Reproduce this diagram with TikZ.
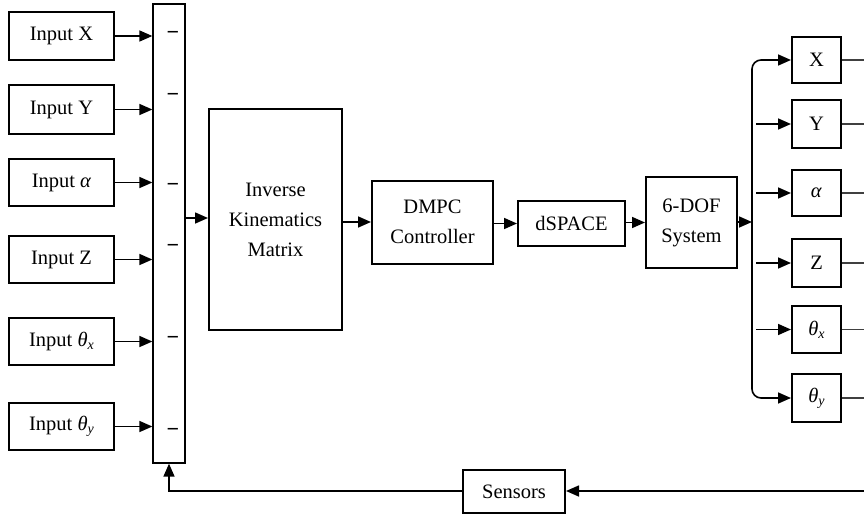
\documentclass[tikz,border=0pt]{standalone}
\usepackage{fontspec}
\setmainfont{Liberation Serif}
\usetikzlibrary{arrows.meta}
\newcommand{\sbx}[1]{\raisebox{-0.35ex}{\fontsize{14}{14}\selectfont\itshape #1}}
\tikzset{
  x=1pt, y=-1pt,
  blk/.style={draw, line width=2pt, inner sep=0pt, align=center,
    font=\fontsize{20.5}{30}\selectfont},
  conn/.style={line width=1.6pt, -{Triangle[length=13pt,width=11pt]}},
  plainline/.style={line width=1.2pt, draw=black!75},
  minus/.style={inner sep=0pt, font=\fontsize{22}{22}\bfseries\selectfont},
}
\begin{document}
\begin{tikzpicture}
\useasboundingbox (0,0) rectangle (864,514);
% input boxes
\node[blk, minimum width=105, minimum height=48] (inX) at (61.5,36) {Input X};
\node[blk, minimum width=105, minimum height=49] (inY) at (61.5,109.5) {Input Y};
\node[blk, minimum width=105, minimum height=47] (inA) at (61.5,182.5) {Input \textit{α}};
\node[blk, minimum width=105, minimum height=47] (inZ) at (61.5,259.5) {Input Z};
\node[blk, minimum width=105, minimum height=47] (inTx) at (61.5,341.5) {Input \textit{θ}\sbx{x}};
\node[blk, minimum width=105, minimum height=47] (inTy) at (61.5,426.5) {Input \textit{θ}\sbx{y}};
% summing bar
\node[draw, line width=1.3pt, minimum width=32, minimum height=459, inner sep=0pt] (bar) at (169,233.5) {};
\node[minus] (m1) at (173,35) {−};
\node[minus] (m2) at (173,97) {−};
\node[minus] (m3) at (173,187) {−};
\node[minus] (m4) at (173,248) {−};
\node[minus] (m5) at (173,340) {−};
\node[minus] (m6) at (173,432) {−};
% input arrows
\foreach \n in {inX,inY,inA,inZ,inTx,inTy}
  \draw[conn] (\n.east) -- (\n.east -| bar.west);
% chain
\node[blk, minimum width=133, minimum height=221] (ik) at (275.5,219.5) {Inverse\\Kinematics\\Matrix};
\node[blk, minimum width=121, minimum height=83] (dmpc) at (432.5,222) {DMPC\\Controller};
\node[blk, minimum width=107, minimum height=45] (ds) at (571.5,223.5) {dSPACE};
\node[blk, minimum width=91, minimum height=91] (dof) at (691.5,222.5) {6-DOF\\System};
\draw[conn] (bar.east |- 0,218) -- (ik.west |- 0,218);
\draw[conn] (ik.east |- dmpc.west) -- (dmpc.west);
\draw[conn] (dmpc.east |- ds.west) -- (ds.west);
\draw[conn] (ds.east |- dof.west) -- (dof.west);
\coordinate (bus) at (752,222);
\coordinate (bx) at (756,222);
\draw[conn] (dof.east |- bus) -- (bus);
% outputs
\node[blk, minimum width=49, minimum height=46] (oX) at (816.5,60) {X};
\node[blk, minimum width=49, minimum height=48] (oY) at (816.5,124) {Y};
\node[blk, minimum width=49, minimum height=46] (oA) at (816.5,193) {\textit{α}};
\node[blk, minimum width=49, minimum height=48] (oZ) at (816.5,263) {Z};
\node[blk, minimum width=49, minimum height=47] (oTx) at (816.5,329.5) {\textit{θ}\sbx{x}};
\node[blk, minimum width=49, minimum height=48] (oTy) at (816.5,398) {\textit{θ}\sbx{y}};
\draw[conn, rounded corners=9pt] (bus) |- (oX.west);
\draw[conn, rounded corners=9pt] (bus) |- (oTy.west);
\foreach \n in {oY,oA,oZ,oTx}
  \draw[conn] (\n.west -| bx) -- (\n.west);
\coordinate (R) at (864,491);
\foreach \n in {oX,oY,oA,oZ,oTx,oTy}
  \draw[plainline] (\n.east) -- (\n.east -| R);
% feedback
\node[blk, minimum width=102, minimum height=43] (sens) at (514,491.5) {Sensors};
\draw[conn] (R) -- (sens.east |- R);
\draw[conn] (sens.west |- R) -| (bar.south);
\end{tikzpicture}
\end{document}
